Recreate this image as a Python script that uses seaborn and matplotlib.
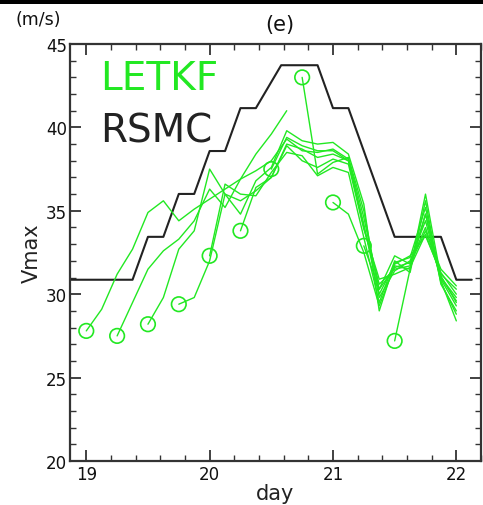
import numpy as np
import pandas as pd
import matplotlib
matplotlib.use("Agg")
import matplotlib.pyplot as plt
from matplotlib.patches import Rectangle
from matplotlib.ticker import MultipleLocator
import seaborn as sns

KT_TO_MS = 0.514444
STEP = 0.125  # LETKF output every 3 hours

# RSMC best-track maximum wind (knots)
rsmc_day = [18.875, 19.375, 19.5, 19.625, 19.75, 19.875, 20.0, 20.125, 20.25,
            20.375, 20.58, 20.875, 21.0, 21.125, 21.5, 21.875, 22.0, 22.125]
rsmc_kt = [60, 60, 65, 65, 70, 70, 75, 75, 80,
           80, 85, 85, 80, 80, 65, 65, 60, 60]

# LETKF forecasts of Vmax (m/s), one list per initial time
letkf_1900 = [27.8, 29.1, 31.2, 32.7, 34.9, 35.6, 34.4, 35.1, 35.7, 36.3, 36.9,
              38.4, 39.6, 41.0]
letkf_1906 = [27.5, 29.5, 31.5, 32.6, 33.3, 34.4, 36.3, 35.2, 36.9, 37.4, 38.0,
              39.3, 38.6, 38.5, 38.7, 38.1, 34.6, 30.3, 31.6, 31.9, 34.0, 31.0, 29.6]
letkf_1912 = [28.2, 29.8, 32.7, 33.8, 37.5, 36.0, 34.8, 36.8, 37.6, 39.8, 39.2,
              39.0, 39.1, 38.4, 35.4, 29.0, 31.9, 32.2, 35.2, 30.8, 28.4]
letkf_1918 = [29.4, 29.8, 32.0, 36.0, 35.6, 36.2, 37.0, 38.9, 38.0, 37.6, 38.1,
              37.8, 33.9, 30.9, 31.2, 31.6, 33.6, 31.2, 30.3]
letkf_2000 = [32.3, 36.6, 36.0, 35.9, 37.3, 38.5, 38.3, 37.1, 37.6, 37.3, 33.4,
              29.5, 32.0, 31.3, 35.6, 30.6, 29.0]
letkf_2006 = [33.8, 36.4, 37.0, 39.0, 38.7, 38.2, 38.4, 38.0, 34.2, 29.8, 31.4,
              32.0, 34.4, 30.9, 29.3]
letkf_2012 = [37.5, 39.4, 38.9, 38.6, 38.6, 38.0, 34.0, 30.6, 31.5, 31.7, 34.8,
              31.1, 29.5]
letkf_2018 = [43.0, 37.2, 37.9, 38.2, 35.0, 30.0, 31.8, 32.3, 33.5, 31.3, 30.0]
letkf_2100 = [35.5, 34.8, 32.5, 29.3, 31.7, 31.5, 34.8, 30.7, 28.8]
letkf_2106 = [32.9, 30.3, 32.3, 31.8, 33.8, 31.5, 30.5]
letkf_2112 = [27.2, 31.5, 36.0, 31.0, 29.8]

letkf_init = [19.0, 19.25, 19.5, 19.75, 20.0, 20.25, 20.5, 20.75, 21.0, 21.25, 21.5]
letkf_runs = [letkf_1900, letkf_1906, letkf_1912, letkf_1918, letkf_2000, letkf_2006,
              letkf_2012, letkf_2018, letkf_2100, letkf_2106, letkf_2112]

rows = []
for init, vals in zip(letkf_init, letkf_runs):
    for k, v in enumerate(vals):
        rows.append({"init": init, "day": init + k * STEP, "vmax": v})
letkf = pd.DataFrame(rows)
starts = letkf.groupby("init").first().reset_index()

rsmc = pd.DataFrame({"day": rsmc_day, "vmax": np.array(rsmc_kt) * KT_TO_MS})

sns.set_style("ticks")
plt.rcParams["font.family"] = ["DejaVu Sans"]

GREEN = "#22e822"
INK = "#222222"

W, H = 483, 506
fig = plt.figure(figsize=(W / 100, H / 100), dpi=100)
ax = fig.add_axes([70 / W, 1 - 462 / H, (481 - 70) / W, (462 - 45) / H])

sns.lineplot(data=rsmc, x="day", y="vmax", color=INK, lw=1.5, ax=ax,
             estimator=None, sort=False)
sns.lineplot(data=letkf, x="day", y="vmax", units="init", estimator=None,
             color=GREEN, lw=1.0, ax=ax, sort=False)
sns.scatterplot(data=starts, x="day", y="vmax", ax=ax, s=110, marker="o",
                facecolor="none", edgecolor=GREEN, linewidth=1.2, zorder=5)

ax.set_xlim(18.868, 22.2)
ax.set_ylim(20, 45)
ax.xaxis.set_major_locator(MultipleLocator(1))
ax.xaxis.set_minor_locator(MultipleLocator(0.2))
ax.yaxis.set_major_locator(MultipleLocator(5))
ax.yaxis.set_minor_locator(MultipleLocator(1))
ax.tick_params(which="both", direction="in", top=True, right=True,
               color="#333333", labelsize=12, labelcolor="#111111")
ax.tick_params(which="major", length=8, width=1.3)
ax.tick_params(which="minor", length=4, width=1.0)
ax.tick_params(axis="y", pad=2)
ax.tick_params(axis="x", pad=3)
for sp in ax.spines.values():
    sp.set_color("#333333")
    sp.set_linewidth(1.6)

ax.set_xlabel("day", fontsize=15, color="#222222", labelpad=0)
ax.set_ylabel("Vmax", fontsize=15, color="#222222", labelpad=3)

ax.text(0.073, 0.892, "LETKF", transform=ax.transAxes, color=GREEN,
        fontsize=28, va="baseline", ha="left")
ax.text(0.073, 0.765, "RSMC", transform=ax.transAxes, color="#222222",
        fontsize=28, va="baseline", ha="left")

fig.text(38 / W, 1 - 20 / H, "(m/s)", ha="center", va="center", fontsize=12.5,
         color="#111111")
fig.text(280 / W, 1 - 25 / H, "(e)", ha="center", va="center", fontsize=15,
         color="#111111")

fig.patches.append(Rectangle((0, 1 - 5 / H), 1, 5 / H, transform=fig.transFigure,
                             facecolor="black", edgecolor="none"))

fig.savefig("out.png", dpi=100)
